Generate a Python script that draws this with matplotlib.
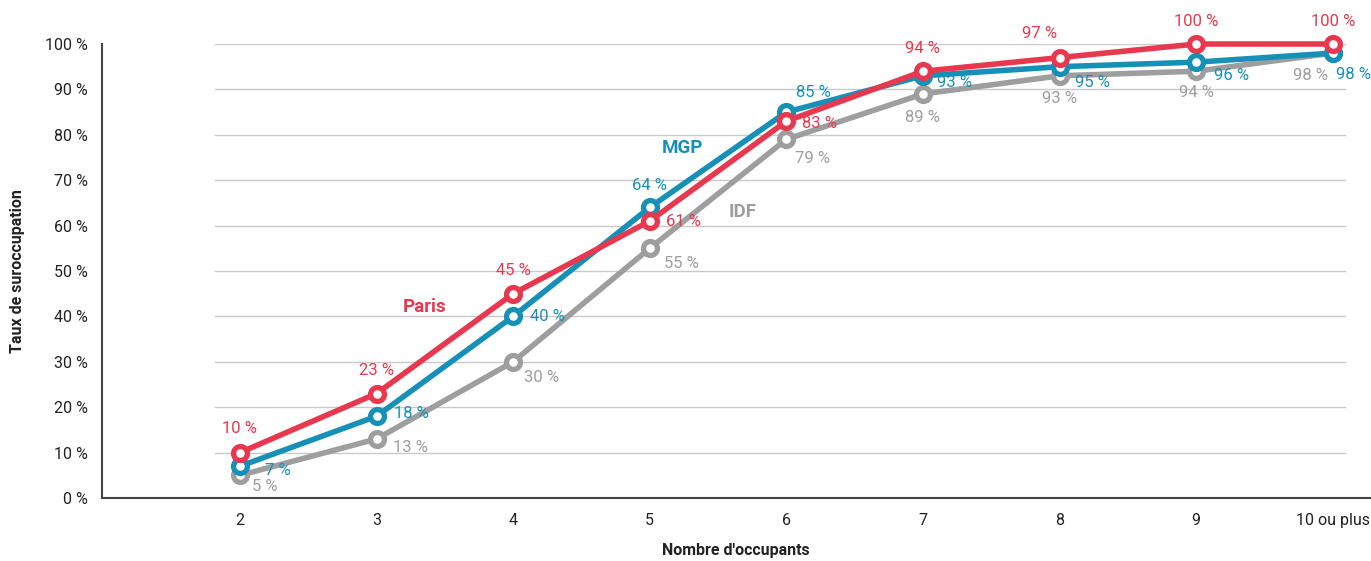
import matplotlib
matplotlib.use("Agg")
import matplotlib.pyplot as plt

categories = ["2", "3", "4", "5", "6", "7", "8", "9", "10 ou plus"]
paris = [10, 23, 45, 61, 83, 94, 97, 100, 100]
mgp = [7, 18, 40, 64, 85, 93, 95, 96, 98]
idf = [5, 13, 30, 55, 79, 89, 93, 94, 98]
yticks = [0, 10, 20, 30, 40, 50, 60, 70, 80, 90, 100]

RED = "#E8384F"
TEAL = "#1790B8"
GREY = "#9E9E9E"

plt.rcParams['font.family'] = ['Roboto', 'DejaVu Sans']

fig = plt.figure(figsize=(13.71, 5.61), dpi=100)
ax = fig.add_axes([102/1371, 1-498/561, 1-102/1371, 454/561])

x = list(range(len(categories)))
ax.set_xlim(-1.01, 8.28)
ax.set_ylim(0, 100)

for v in yticks[1:]:
    ax.plot([-0.18, 8.09], [v, v], color="#c9c9c9", lw=1.0, zorder=1)

for data, col, z in [(idf, GREY, 3), (mgp, TEAL, 4), (paris, RED, 5)]:
    ax.plot(x, data, color=col, lw=4.0, marker="o", ms=10, mew=3.8,
            mfc="white", mec=col, zorder=z, clip_on=False)

# label offsets in pixels (dx, dy, ha)
paris_off = [(0, 24, "center"), (0, 23, "center"), (0, 23, "center"), (16, 0, "left"),
             (16, -2, "left"), (0, 23, "center"), (-20, 24, "center"), (0, 23, "center"),
             (0, 23, "center")]
mgp_off = [(25, -4, "left"), (17, 3, "left"), (17, 0, "left"), (0, 22, "center"),
           (27, 20, "center"), (14, -7, "left"), (15, -16, "left"), (18, -13, "left"),
           (3, -21, "left")]
idf_off = [(12, -11, "left"), (16, -9, "left"), (11, -16, "left"), (14, -15, "left"),
           (9, -19, "left"), (0, -24, "center"), (0, -23, "center"), (0, -21, "center"),
           (-5, -22, "right")]

for data, offs, col in [(idf, idf_off, GREY), (mgp, mgp_off, TEAL), (paris, paris_off, RED)]:
    for xi, v, (dx, dy, ha) in zip(x, data, offs):
        ax.annotate(f"{v} %", (xi, v), xytext=(dx, dy), textcoords="offset pixels",
                    ha=ha, va="center", color=col, fontsize=12, zorder=10,
                    annotation_clip=False)

ax.text(1.35, 42, "Paris", color=RED, fontsize=13.5, fontweight="bold", ha="center", va="center")
ax.text(3.24, 77, "MGP", color=TEAL, fontsize=13.5, fontweight="bold", ha="center", va="center")
ax.text(3.68, 63, "IDF", color=GREY, fontsize=13.5, fontweight="bold", ha="center", va="center")

ax.set_xticks(x)
ax.set_xticklabels(categories)
ax.set_yticks(yticks)
ax.set_yticklabels([f"{v} %" for v in yticks])
ax.tick_params(axis="both", length=0, labelsize=11.5, colors="#222222")
ax.tick_params(axis="y", pad=10)
ax.tick_params(axis="x", pad=11)

for s in ["top", "right"]:
    ax.spines[s].set_visible(False)
for s in ["left", "bottom"]:
    ax.spines[s].set_color("#444444")
    ax.spines[s].set_linewidth(1.5)

fig.text(18/1371, 1-271/561, "Taux de suroccupation", rotation=90, ha="center", va="center",
         fontsize=11.5, fontweight="bold", color="#222222")
fig.text(736/1371, 1-550/561, "Nombre d'occupants", ha="center", va="center",
         fontsize=11.5, fontweight="bold", color="#222222")

fig.savefig("out.png", dpi=100)
